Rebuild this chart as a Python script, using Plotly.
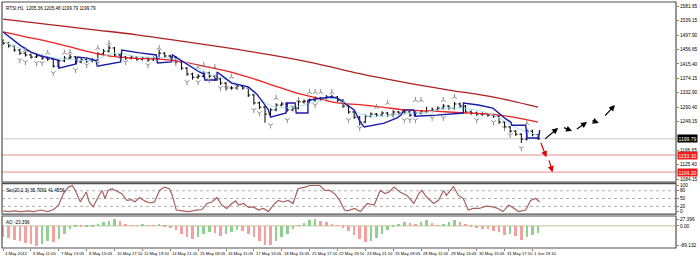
import plotly.graph_objects as go

# ---------------- data ----------------
bars = list(range(97))
opens = [1480,1475,1467,1455,1446,1441,1435,1438,1432,1429,
         1409,1424,1432,1435,1421,1427,1424,1427,1444,1452,
         1461,1441,1435,1432,1435,1429,1432,1427,1432,1446,
         1438,1435,1421,1403,1386,1377,1380,1389,1380,1372,
         1360,1346,1346,1351,1346,1326,1303,1291,1271,1283,
         1297,1300,1283,1288,1306,1308,1311,1317,1314,1320,
         1320,1311,1294,1277,1262,1248,1265,1271,1268,1274,
         1268,1277,1274,1277,1268,1274,1277,1280,1283,1288,
         1294,1288,1300,1294,1277,1274,1271,1271,1268,1265,
         1248,1234,1222,1213,1199,1222,1212]
highs = [1486,1478,1470,1459,1451,1445,1446,1442,1437,1431,
         1428,1438,1444,1438,1432,1430,1432,1449,1458,1470,
         1464,1445,1438,1440,1438,1436,1435,1437,1456,1449,
         1442,1438,1424,1406,1390,1386,1395,1393,1384,1375,
         1363,1352,1357,1355,1349,1329,1307,1294,1288,1302,
         1306,1303,1293,1311,1313,1316,1322,1320,1326,1327,
         1323,1314,1297,1280,1266,1270,1276,1274,1279,1277,
         1282,1280,1283,1280,1279,1283,1292,1290,1293,1300,
         1297,1306,1304,1297,1281,1278,1276,1274,1272,1268,
         1251,1237,1225,1216,1228,1226,1214]
lows = [1470,1462,1450,1441,1436,1430,1432,1427,1424,1404,
        1406,1420,1428,1415,1417,1418,1420,1424,1440,1448,
        1436,1430,1427,1428,1424,1425,1421,1424,1430,1433,
        1430,1416,1398,1381,1370,1372,1376,1375,1366,1354,
        1340,1341,1342,1341,1320,1298,1285,1246,1266,1279,
        1293,1278,1279,1285,1301,1304,1307,1309,1310,1315,
        1306,1289,1272,1257,1238,1245,1261,1263,1264,1263,
        1264,1269,1270,1263,1264,1270,1273,1276,1279,1284,
        1283,1284,1289,1272,1269,1266,1266,1263,1260,1243,
        1229,1217,1208,1188,1195,1207,1197]
closes = [1475,1467,1455,1446,1441,1435,1438,1432,1429,1409,
          1424,1432,1435,1421,1427,1424,1427,1444,1452,1461,
          1441,1435,1432,1435,1429,1432,1427,1432,1446,1438,
          1435,1421,1403,1386,1377,1380,1389,1380,1372,1360,
          1346,1346,1351,1346,1326,1303,1291,1271,1283,1297,
          1300,1283,1288,1306,1308,1311,1317,1314,1320,1320,
          1311,1294,1277,1262,1248,1265,1271,1268,1274,1268,
          1277,1274,1277,1268,1274,1277,1280,1283,1288,1294,
          1288,1300,1294,1277,1274,1271,1271,1268,1265,1248,
          1234,1222,1213,1199,1222,1212,1199.79]

# long moving average (dark red)
slow_ma_x = [0, 8, 16, 24, 32, 40, 48, 56, 64, 72, 80, 88, 96]
slow_ma = [1544, 1529, 1514, 1499, 1481, 1462, 1441, 1417, 1387, 1362, 1340, 1320, 1291]
# medium moving average (red)
mid_ma_x = [0, 4, 8, 12, 16, 20, 24, 28, 32, 36, 40, 44, 48, 52, 56, 60, 64, 68, 72, 76, 80, 84, 88, 92, 96]
mid_ma = [1507, 1493, 1480, 1464, 1448, 1436, 1431, 1429, 1422, 1409, 1395, 1377, 1356,
          1335, 1318, 1303, 1298, 1291, 1283, 1280, 1277, 1274, 1270, 1261, 1248]
# fast moving average (light cyan)
fast_ma_x = mid_ma_x
fast_ma = [1480, 1455, 1436, 1428, 1426, 1446, 1436, 1434, 1425, 1392, 1370, 1345, 1296,
           1290, 1305, 1315, 1272, 1265, 1273, 1276, 1288, 1285, 1268, 1232, 1210]
# blue stepped line
blue_x = [0, 1.4, 3.2, 5.0, 6.8, 8.5, 9.8, 10.0, 13.1, 13.3, 15.1, 16.7,
          16.9, 21.1, 21.3, 24.5, 27.5, 27.7, 30.2, 30.4, 31.6, 33.4, 35.2, 36.1,
          36.2, 38.4, 38.4, 39.8, 41.0, 44.0, 45.5, 46.7, 47.6, 48.0,
          50.8, 50.8, 52.4, 52.6, 54.7, 54.7, 57.7, 58.8, 60.0, 61.3, 63.0, 64.1, 64.8,
          68.4, 70.7, 71.4, 71.9, 73.7, 73.9, 77.8, 82.6, 82.6,
          85.3, 87.9, 90.2, 91.1, 91.3, 93.8, 94.0, 96.1, 96.3]
blue_y = [1507, 1490, 1467, 1449, 1438, 1432, 1426, 1403, 1415, 1435, 1432, 1424,
          1409, 1421, 1455, 1447, 1441, 1418, 1421, 1441, 1429, 1409, 1392, 1386,
          1369, 1369, 1392, 1375, 1360, 1349, 1329, 1303, 1283, 1262,
          1274, 1303, 1303, 1274, 1274, 1311, 1317, 1320, 1317, 1303, 1283, 1248, 1234,
          1245, 1260, 1268, 1283, 1283, 1265, 1268, 1274, 1303,
          1297, 1288, 1257, 1248, 1239, 1239, 1202, 1202, 1225]

# fractal markers
frac_up_x = [4, 8, 11, 12, 17, 19, 28, 35, 36, 38, 41, 49, 53, 55, 56, 57, 59, 67, 69, 74, 75, 79, 81, 94]
frac_up_y = [1455, 1447, 1447, 1449, 1461, 1475, 1461, 1406, 1412, 1406, 1378, 1317, 1311,
             1334, 1334, 1334, 1334, 1291, 1303, 1311, 1311, 1311, 1320, 1245]
frac_dn_x = [3, 4, 6, 7, 9, 13, 15, 17, 22, 26, 31, 33, 35, 37, 39, 40, 42, 45, 46, 48,
             51, 52, 56, 61, 62, 64, 70, 72, 73, 74, 77, 79, 85, 88, 90, 91, 93]
frac_dn_y = [1426, 1421, 1418, 1418, 1389, 1398, 1412, 1418, 1421, 1412, 1418, 1363, 1363,
             1369, 1346, 1346, 1349, 1283, 1274, 1239, 1254, 1291, 1297, 1303, 1254, 1231,
             1268, 1254, 1254, 1254, 1260, 1260, 1254, 1248, 1231, 1211, 1173]

# price levels: current price, two targets
level_prices = [1199.79, 1153.30, 1104.20]
level_labels = ["1199.79", "1153.30", "1104.20"]

# projection arrows (tail -> head)
arrow_x0 = [97.0, 100.4, 102.7, 105.5, 107.8, 96.4, 97.9]
arrow_y0 = [1196, 1234, 1225, 1254, 1262, 1193, 1142]
arrow_x1 = [99.6, 102.1, 104.8, 106.9, 109.8, 97.5, 98.6]
arrow_y1 = [1231, 1222, 1248, 1245, 1297, 1147, 1104]
arrow_col = ["black", "black", "black", "black", "black", "#e00000", "#e00000"]

price_ticks = [1581.65, 1539.15, 1497.90, 1456.65, 1415.40, 1374.15, 1332.90, 1290.40,
               1249.15, 1166.65, 1125.40, 1084.15]
price_tick_text = ["1581.65", "1539.15", "1497.90", "1456.65", "1415.40", "1374.15", "1332.90",
                   "1290.40", "1249.15", "1166.65", "1125.40", "1084.15"]

# stochastic
stoch_x = [0.0, 0.89, 1.95, 3.20, 4.44, 5.51, 6.75, 8.00, 9.06, 9.95, 10.83, 11.72, 12.43, 12.97,
           13.85, 14.39, 14.92, 15.45, 16.16, 17.05, 17.76, 18.29, 18.83, 19.54, 20.43, 21.31,
           22.20, 23.09, 23.62, 24.51, 25.40, 26.29, 27.18, 28.06, 28.95, 29.84, 30.37, 31.08,
           32.15, 33.39, 34.64, 35.70, 36.59, 37.48, 38.37, 39.25, 40.14, 41.03, 41.74, 42.27,
           43.16, 44.05, 44.94, 45.83, 46.71, 47.60, 48.49, 49.38, 50.27, 51.15, 52.04, 52.93,
           54.17, 55.06, 55.95, 56.84, 57.73, 58.61, 59.50, 60.39, 61.28, 61.81, 63.06, 64.12,
           65.36, 66.61, 67.67, 68.56, 69.27, 70.16, 71.23, 72.47, 73.71, 74.60, 75.13, 76.02,
           77.26, 78.15, 79.04, 79.57, 80.82, 81.71, 82.59, 83.48, 84.37, 85.44, 86.68, 87.92,
           88.81, 89.70, 90.76, 91.65, 92.54, 93.78, 94.67, 95.56, 96.27]
stoch_val = [3, 0, 3, 0, 3, 0, 6, 0, 8, 25, 69, 94, 100, 81,
             37, 56, 75, 37, 18, 56, 81, 50, 81, 88, 79, 69,
             43, 46, 37, 54, 41, 33, 37, 81, 94, 88, 62, 6,
             3, 0, 6, 8, 31, 37, 54, 25, 12, 31, 41, 25,
             31, 16, 18, 6, 12, 0, 25, 43, 37, 43, 31, 88,
             94, 100, 100, 100, 81, 81, 69, 43, 6, 3, 12, 0,
             31, 25, 81, 69, 75, 94, 75, 62, 31, 69, 81, 56,
             31, 43, 81, 62, 96, 62, 50, 6, 12, 12, 21, 18,
             12, 0, 25, 12, 0, 6, 43, 50, 37]
stoch_levels = [20, 50, 80]
stoch_ticks = [100, 80, 50, 20, 0]

# awesome oscillator
ao = [-50, -55, -62, -70, -78, -84, -89, -82, -70, -75,
      -60, -35, -15, -4, -7, -3, -1, 8, 16, 24,
      30, 20, 8, 3, 2, 4, 3, 2, 4, -3,
      -10, -20, -35, -52, -60, -50, -38, -28, -32, -44,
      -38, -26, -18, -25, -35, -50, -68, -85, -88, -70,
      -52, -35, -15, 2, 14, 25, 32, 24, 18, 10,
      3, -8, -25, -40, -60, -72, -68, -55, -38, -20,
      -5, 10, 18, 12, 6, 18, 28, 15, 3, 8,
      16, 26, 18, 8, -4, -10, -13, -16, -22, -30,
      -42, -36, -48, -62, -52, -42, -32]
ao_ticks = [27.396, 0.0, -89.132]
ao_tick_text = ["27.396", "0.00", "-89.132"]

date_ticks = [0, 5, 10, 15, 20, 25, 30, 35, 40, 45, 50, 55, 60, 65, 70, 75, 80, 85, 90, 95]
date_labels = ["4 May 2012", "5 May 11:05", "7 May 13:05", "8 May 15:05", "10 May 17:10",
               "11 May 19:10", "14 May 21:10", "15 May 09:05", "16 May 11:05", "17 May 13:05",
               "18 May 15:05", "21 May 17:10", "22 May 19:10", "23 May 21:10", "25 May 09:05",
               "28 May 11:05", "29 May 13:05", "30 May 15:05", "31 May 17:10", "1 Jun 19:10"]

title_text = "RTSI,H1  1205.36 1205.48 1199.79 1199.79"
stoch_title = "Sto(20,2,3) 35.7091 41.4556"
ao_title = "AO -23.396"

# ---------------- figure ----------------
FONT = "Liberation Sans"
fig = go.Figure()

fig.add_trace(go.Scatter(x=slow_ma_x, y=slow_ma, mode="lines", line=dict(color="#b02020", width=1.3, shape="spline"),
                         xaxis="x", yaxis="y", hoverinfo="skip"))
fig.add_trace(go.Scatter(x=mid_ma_x, y=mid_ma, mode="lines", line=dict(color="#ee2020", width=1.3, shape="spline"),
                         xaxis="x", yaxis="y", hoverinfo="skip"))
fig.add_trace(go.Scatter(x=fast_ma_x, y=fast_ma, mode="lines", line=dict(color="#a8e4f0", width=1, shape="spline"),
                         xaxis="x", yaxis="y", hoverinfo="skip"))
fig.add_trace(go.Ohlc(x=bars, open=opens, high=highs, low=lows, close=closes,
                      increasing=dict(line=dict(color="black", width=1)),
                      decreasing=dict(line=dict(color="black", width=1)),
                      tickwidth=0.35, xaxis="x", yaxis="y", hoverinfo="skip"))
fig.add_trace(go.Scatter(x=blue_x, y=blue_y, mode="lines", line=dict(color="#1a1aa8", width=1.4),
                         xaxis="x", yaxis="y", hoverinfo="skip"))
fig.add_trace(go.Scatter(x=frac_up_x, y=frac_up_y, mode="markers",
                         marker=dict(symbol="y-up-open", size=4, color="#8c8c8c",
                                     line=dict(color="#8c8c8c", width=1)),
                         xaxis="x", yaxis="y", hoverinfo="skip"))
fig.add_trace(go.Scatter(x=frac_dn_x, y=frac_dn_y, mode="markers",
                         marker=dict(symbol="y-down-open", size=4, color="#8c8c8c",
                                     line=dict(color="#8c8c8c", width=1)),
                         xaxis="x", yaxis="y", hoverinfo="skip"))

# stochastic
fig.add_trace(go.Scatter(x=stoch_x, y=stoch_val, mode="lines", line=dict(color="#a86060", width=1.2),
                         xaxis="x2", yaxis="y2", hoverinfo="skip"))

# AO histogram
ao_colors = ["#8fd08f" if (i > 0 and ao[i] > ao[i - 1]) else "#f4a0a0" for i in range(len(ao))]
fig.add_trace(go.Bar(x=bars, y=ao, marker=dict(color=ao_colors, line=dict(width=0)), width=0.45,
                     xaxis="x3", yaxis="y3", hoverinfo="skip"))

shapes = []
level_colors = ["#c8c8c8", "#f08a8a", "#f08a8a"]
for p, c in zip(level_prices, level_colors):
    shapes.append(dict(type="line", xref="x domain", yref="y", x0=0, x1=1, y0=p, y1=p,
                       line=dict(color=c, width=1), layer="below"))
for lv in stoch_levels:
    shapes.append(dict(type="line", xref="x2 domain", yref="y2", x0=0, x1=1, y0=lv, y1=lv,
                       line=dict(color="#b0b0b0", width=1, dash="dot"), layer="below"))
shapes.append(dict(type="line", xref="x3 domain", yref="y3", x0=0, x1=1, y0=0, y1=0,
                   line=dict(color="#c4c49a", width=1), layer="below"))
for xr_, yr_ in [("x domain", "y domain"), ("x2 domain", "y2 domain"), ("x3 domain", "y3 domain")]:
    shapes.append(dict(type="rect", xref=xr_, yref=yr_, x0=0, x1=1, y0=0, y1=1,
                       line=dict(color="#505050", width=1.2)))

annotations = []
for x0, y0, x1, y1, c in zip(arrow_x0, arrow_y0, arrow_x1, arrow_y1, arrow_col):
    annotations.append(dict(x=x1, y=y1, ax=x0, ay=y0, xref="x", yref="y", axref="x", ayref="y",
                            text="", showarrow=True, arrowhead=2, arrowsize=1, arrowwidth=1.2,
                            arrowcolor=c))
label_bg = ["black", "#ee1c1c", "#ee1c1c"]
for p, t, bg in zip(level_prices, level_labels, label_bg):
    annotations.append(dict(x=1, xref="paper", xanchor="left", xshift=1, y=p, yref="y",
                            text=t, showarrow=False, bgcolor=bg, borderpad=0.5,
                            font=dict(family=FONT, size=5, color="white")))
for tv, tl in zip(date_ticks, date_labels):
    annotations.append(dict(x=tv, xref="x3", xanchor="left", xshift=0, y=0, yref="paper",
                            yanchor="top", yshift=-1, text=tl, showarrow=False,
                            font=dict(family=FONT, size=4.2, color="black")))
for t, yref in [(title_text, "y domain"), (stoch_title, "y2 domain"), (ao_title, "y3 domain")]:
    annotations.append(dict(x=0, xref="paper", xanchor="left", xshift=2, y=1, yref=yref,
                            yanchor="top", yshift=-2, text=t, showarrow=False,
                            font=dict(family=FONT, size=4.6, color="black")))

xr = [-0.2, 120.76]
tickfont = dict(family=FONT, size=4.8, color="black")
fig.update_layout(
    width=700, height=256, margin=dict(l=2, r=17, t=2, b=8),
    paper_bgcolor="white", plot_bgcolor="white", showlegend=False,
    font=dict(family=FONT, size=5, color="black"),
    bargap=0,
    xaxis=dict(domain=[0, 1], anchor="y", range=xr, showticklabels=False, showgrid=False,
               zeroline=False, rangeslider=dict(visible=False)),
    xaxis2=dict(domain=[0, 1], anchor="y2", range=xr, matches="x", showticklabels=False,
                showgrid=False, zeroline=False),
    xaxis3=dict(domain=[0, 1], anchor="y3", range=xr, matches="x", showticklabels=False,
                showgrid=False, zeroline=False, ticks="outside", ticklen=2, tickcolor="#808080",
                tickvals=date_ticks),
    yaxis=dict(domain=[0.268, 1], anchor="x", range=[1075.5, 1593.2], side="right",
               tickvals=price_ticks, ticktext=price_tick_text, ticks="outside", ticklen=2,
               tickcolor="#808080", showgrid=False, zeroline=False, tickfont=tickfont),
    yaxis2=dict(domain=[0.138, 0.262], anchor="x2", range=[-9.4, 107.5], side="right",
                tickvals=stoch_ticks, ticks="outside", ticklen=2, tickcolor="#808080",
                showgrid=False, zeroline=False, tickfont=tickfont),
    yaxis3=dict(domain=[0, 0.130], anchor="x3", range=[-100, 44.5], side="right",
                tickvals=ao_ticks, ticktext=ao_tick_text, ticks="outside", ticklen=2,
                tickcolor="#808080", showgrid=False, zeroline=False, tickfont=tickfont),
    shapes=shapes, annotations=annotations,
)

fig.write_html("out.html")
